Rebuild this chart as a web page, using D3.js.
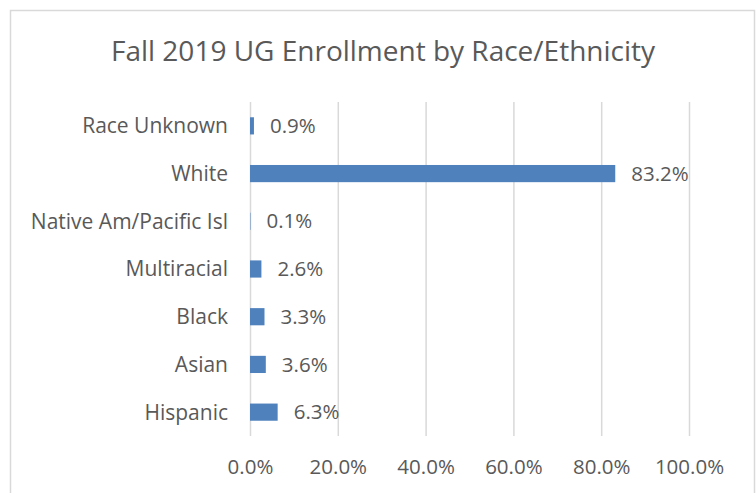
<!DOCTYPE html>
<html><head><meta charset="utf-8">
<script src="https://cdn.jsdelivr.net/npm/d3@7"></script>
<style>body{margin:0;background:#fff}svg{display:block}</style>
</head><body>
<svg id="chart" width="756" height="493"></svg>
<script>
const title = "Fall 2019 UG Enrollment by Race/Ethnicity";
const categories = ["Race Unknown","White","Native Am/Pacific Isl","Multiracial","Black","Asian","Hispanic"];
const values = [0.009, 0.832, 0.001, 0.026, 0.033, 0.036, 0.063];
const tickValues = [0, 0.2, 0.4, 0.6, 0.8, 1.0];

const svg = d3.select("#chart");
const font = "'Open Sans', sans-serif";
const textColor = "#595959";

svg.append("rect").attr("x",10.5).attr("y",10.5).attr("width",744).attr("height",500)
  .attr("fill","#fff").attr("stroke","#d9d9d9").attr("stroke-width",1.5);

svg.append("text").attr("x",383).attr("y",61).attr("text-anchor","middle")
  .attr("font-family",font).attr("font-size",28).attr("fill",textColor).text(title);

const x = d3.scaleLinear().domain([0,1]).range([250,689]);
const y = d3.scaleBand().domain(categories).range([102,436]).paddingInner(0.64).paddingOuter(0.32);

const grid = d3.axisBottom(x).tickValues(tickValues).tickSize(-(436-102)).tickFormat("");
svg.append("g").attr("transform","translate(0,436)").call(grid)
  .call(g=>g.select(".domain").remove())
  .call(g=>g.selectAll("line").attr("stroke","#d9d9d9").attr("stroke-width",1.5));

const xAxis = d3.axisBottom(x).tickValues(tickValues).tickSize(0).tickPadding(0).tickFormat(d3.format(".1%"));
svg.append("g").attr("transform","translate(0,474)").call(xAxis)
  .call(g=>g.select(".domain").remove())
  .call(g=>g.selectAll("text").attr("font-family",font).attr("font-size",20.5).attr("fill",textColor).attr("dy",0));

const yAxis = d3.axisLeft(y).tickSize(0).tickPadding(0);
svg.append("g").attr("transform","translate(228,0)").call(yAxis)
  .call(g=>g.select(".domain").remove())
  .call(g=>g.selectAll("text").attr("font-family",font).attr("font-size",21).attr("fill",textColor).attr("dy","0.35em"));

svg.append("g").selectAll("rect").data(categories).join("rect")
  .attr("x",x(0)).attr("y",d=>y(d)).attr("height",y.bandwidth())
  .attr("width",(d,i)=>x(values[i])-x(0)).attr("fill","#4f81bd");

svg.append("g").selectAll("text").data(categories).join("text")
  .attr("x",(d,i)=>x(values[i])+16).attr("y",d=>y(d)+y.bandwidth()/2).attr("dy","0.35em")
  .attr("font-family",font).attr("font-size",20.5).attr("fill",textColor)
  .text((d,i)=>d3.format(".1%")(values[i]));
</script>
</body></html>
